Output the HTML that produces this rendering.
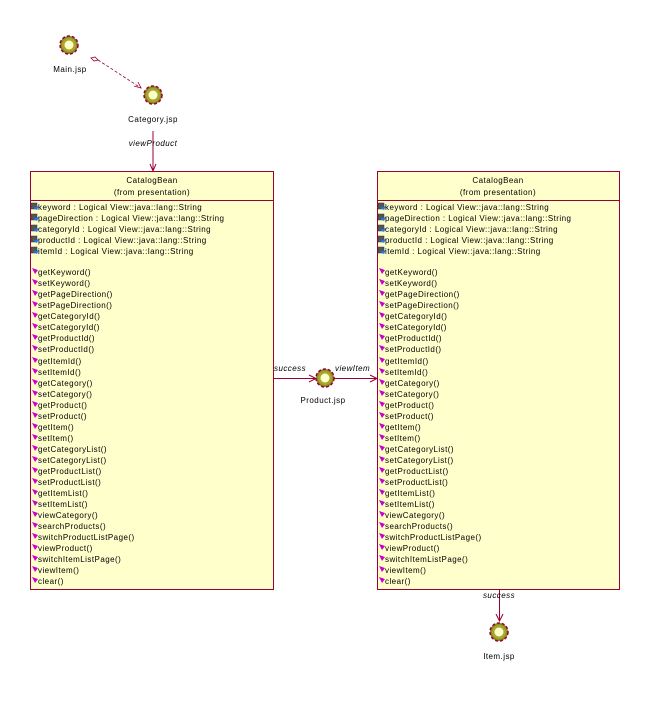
<!DOCTYPE html>
<html><head><meta charset="utf-8"><style>
html,body{margin:0;padding:0;background:#fff;}
svg{display:block;}
text{font-family:"Liberation Sans",sans-serif;font-size:8px;fill:#000;letter-spacing:0.45px;}
</style></head><body>
<svg width="650" height="717" viewBox="0 0 650 717" xmlns="http://www.w3.org/2000/svg">
<defs>
<g id="gear">
<circle r="9" fill="#8a8a20" stroke="#990033" stroke-width="1.5" stroke-dasharray="3 2"/>
<circle r="7" fill="#a8a830"/>
<circle r="4.5" fill="#ffffcc"/>
</g>
<g id="att"><rect x="0" y="-7" width="6" height="6" fill="#555" stroke="#333" stroke-width="0.5"/><path d="M2 -2 l6 -2 l-2 4 z" fill="#2277ee"/></g>
<g id="op"><path d="M-1 -7 l6 2 l-3 4 z" fill="#cc00cc"/></g>
</defs>

<use href="#gear" x="69" y="45"/>
<text x="70" y="72" text-anchor="middle">Main.jsp</text>
<use href="#gear" x="153" y="95"/>
<text x="153" y="122" text-anchor="middle">Category.jsp</text>
<path d="M91 58 l4 -1 l3 3 l-4 1 z" fill="none" stroke="#990033" stroke-width="0.8"/>
<line x1="98" y1="60" x2="141" y2="88" stroke="#990033" stroke-width="0.8" stroke-dasharray="3 2"/>
<path d="M134 86 l7 2 l-3 -6" fill="none" stroke="#990033" stroke-width="0.8"/>
<line x1="153" y1="131" x2="153" y2="171" stroke="#990033" stroke-width="1"/>
<path d="M150 164 l3 7 l3 -7" fill="none" stroke="#990033" stroke-width="1"/>
<text x="153" y="146" text-anchor="middle" font-style="italic">viewProduct</text>

<rect x="30.5" y="171.5" width="243" height="418" fill="#ffffcc" stroke="#990033"/>
<line x1="30" y1="200.5" x2="273" y2="200.5" stroke="#990033"/>
<text x="152" y="183" text-anchor="middle" font-size="9">CatalogBean</text>
<text x="152" y="195" text-anchor="middle">(from presentation)</text>
<g id="attrs">
<use href="#att" x="31" y="210"/><text x="38" y="210">keyword : Logical View::java::lang::String</text>
<use href="#att" x="31" y="221"/><text x="38" y="221">pageDirection : Logical View::java::lang::String</text>
<use href="#att" x="31" y="232"/><text x="38" y="232">categoryId : Logical View::java::lang::String</text>
<use href="#att" x="31" y="243"/><text x="38" y="243">productId : Logical View::java::lang::String</text>
<use href="#att" x="31" y="254"/><text x="38" y="254">itemId : Logical View::java::lang::String</text>
</g>
<g id="ops">
<use href="#op" x="33" y="275"/><text x="38" y="275">getKeyword()</text>
<use href="#op" x="33" y="286"/><text x="38" y="286">setKeyword()</text>
<use href="#op" x="33" y="297"/><text x="38" y="297">getPageDirection()</text>
<use href="#op" x="33" y="308"/><text x="38" y="308">setPageDirection()</text>
<use href="#op" x="33" y="319"/><text x="38" y="319">getCategoryId()</text>
<use href="#op" x="33" y="330"/><text x="38" y="330">setCategoryId()</text>
<use href="#op" x="33" y="341"/><text x="38" y="341">getProductId()</text>
<use href="#op" x="33" y="352"/><text x="38" y="352">setProductId()</text>
<use href="#op" x="33" y="364"/><text x="38" y="364">getItemId()</text>
<use href="#op" x="33" y="375"/><text x="38" y="375">setItemId()</text>
<use href="#op" x="33" y="386"/><text x="38" y="386">getCategory()</text>
<use href="#op" x="33" y="397"/><text x="38" y="397">setCategory()</text>
<use href="#op" x="33" y="408"/><text x="38" y="408">getProduct()</text>
<use href="#op" x="33" y="419"/><text x="38" y="419">setProduct()</text>
<use href="#op" x="33" y="430"/><text x="38" y="430">getItem()</text>
<use href="#op" x="33" y="441"/><text x="38" y="441">setItem()</text>
<use href="#op" x="33" y="452"/><text x="38" y="452">getCategoryList()</text>
<use href="#op" x="33" y="463"/><text x="38" y="463">setCategoryList()</text>
<use href="#op" x="33" y="474"/><text x="38" y="474">getProductList()</text>
<use href="#op" x="33" y="485"/><text x="38" y="485">setProductList()</text>
<use href="#op" x="33" y="496"/><text x="38" y="496">getItemList()</text>
<use href="#op" x="33" y="507"/><text x="38" y="507">setItemList()</text>
<use href="#op" x="33" y="518"/><text x="38" y="518">viewCategory()</text>
<use href="#op" x="33" y="529"/><text x="38" y="529">searchProducts()</text>
<use href="#op" x="33" y="540"/><text x="38" y="540">switchProductListPage()</text>
<use href="#op" x="33" y="551"/><text x="38" y="551">viewProduct()</text>
<use href="#op" x="33" y="562"/><text x="38" y="562">switchItemListPage()</text>
<use href="#op" x="33" y="573"/><text x="38" y="573">viewItem()</text>
<use href="#op" x="33" y="584"/><text x="38" y="584">clear()</text>
</g>

<rect x="377.5" y="171.5" width="242" height="418" fill="#ffffcc" stroke="#990033"/>
<line x1="377" y1="200.5" x2="619" y2="200.5" stroke="#990033"/>
<text x="498" y="183" text-anchor="middle" font-size="9">CatalogBean</text>
<text x="498" y="195" text-anchor="middle">(from presentation)</text>
<use href="#attrs" x="347" y="0"/>
<use href="#ops" x="347" y="0"/>

<line x1="273" y1="378.5" x2="316" y2="378.5" stroke="#990033"/>
<path d="M309 375 l7 3.5 l-7 3.5" fill="none" stroke="#990033"/>
<line x1="334" y1="378.5" x2="377" y2="378.5" stroke="#990033"/>
<path d="M370 375 l7 3.5 l-7 3.5" fill="none" stroke="#990033"/>
<text x="274" y="371" font-style="italic">success</text>
<text x="335" y="371" font-style="italic">viewItem</text>
<use href="#gear" x="325" y="378"/>
<text x="323" y="403" text-anchor="middle">Product.jsp</text>

<line x1="499.5" y1="589" x2="499.5" y2="621" stroke="#990033"/>
<path d="M496 614 l3.5 7 l3.5 -7" fill="none" stroke="#990033"/>
<text x="499" y="598" text-anchor="middle" font-style="italic">success</text>
<use href="#gear" x="499" y="632"/>
<text x="499" y="659" text-anchor="middle">Item.jsp</text>
</svg>
</body></html>
